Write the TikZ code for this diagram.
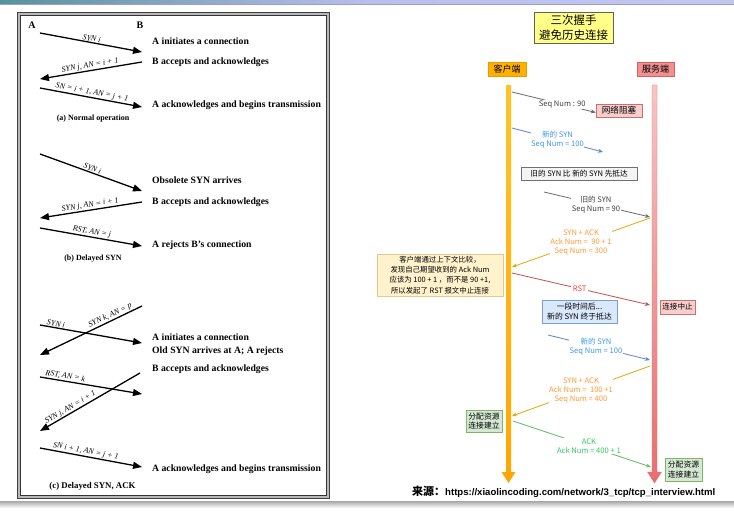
\documentclass[tikz,border=0pt]{standalone}
\usepackage{fontspec}
\setmainfont{Liberation Serif}
\newfontfamily\cjk{Noto Sans CJK SC}
\newfontfamily\arialf{Liberation Sans}
\usetikzlibrary{arrows.meta}
\definecolor{titley}{HTML}{FFFF88}
\definecolor{titleb}{HTML}{606060}
\definecolor{clorange}{HTML}{FFB000}
\definecolor{svpink}{HTML}{F09090}
\definecolor{svred}{HTML}{D86060}
\definecolor{redfill}{HTML}{F8CECC}
\definecolor{redline}{HTML}{C87070}
\definecolor{greyfill}{HTML}{F4F4F4}
\definecolor{greyline}{HTML}{707070}
\definecolor{notefill}{HTML}{FFF2CC}
\definecolor{noteline}{HTML}{E2C98C}
\definecolor{bluefill}{HTML}{DAE8FC}
\definecolor{blueline}{HTML}{7C9CCB}
\definecolor{greenfill}{HTML}{D5E8D4}
\definecolor{greenline}{HTML}{82B366}
\definecolor{mgrey}{HTML}{6A6A6A}
\definecolor{mgreytxt}{HTML}{404040}
\definecolor{mblue}{HTML}{5B84C4}
\definecolor{mbluetxt}{HTML}{3C96F0}
\definecolor{mgold}{HTML}{E0A800}
\definecolor{morangetxt}{HTML}{FF9A33}
\definecolor{mred}{HTML}{C0504D}
\definecolor{mredtxt}{HTML}{FF3B3B}
\definecolor{mgreen}{HTML}{6BBF6B}
\definecolor{mgreentxt}{HTML}{2FCB5F}
\definecolor{barteal}{RGB}{88,145,158}
\definecolor{barlav}{RGB}{186,190,236}
\definecolor{barlav2}{RGB}{196,198,240}
\definecolor{barline}{RGB}{150,160,200}
\definecolor{cltop}{RGB}{255,196,40}
\definecolor{clbot}{RGB}{255,166,0}
\definecolor{svtop}{RGB}{247,196,196}
\definecolor{svbot}{RGB}{232,110,110}
\definecolor{svedge}{RGB}{220,120,120}
\begin{document}
\begin{tikzpicture}[x=1pt,y=-1pt,
  larrow/.style={line width=1.3pt,-{Triangle[length=9pt,width=7pt]}},
  lbl/.style={font=\fontsize{8}{9}\selectfont\itshape,sloped,above,inner sep=0.8pt},
  ltxt/.style={font=\fontsize{9.7}{11}\selectfont\bfseries,anchor=west,inner sep=0pt},
  capt/.style={font=\fontsize{8}{9}\selectfont\bfseries,inner sep=0pt},
  box/.style={inner sep=0pt,align=center,font=\cjk\fontsize{8}{9.5}\selectfont},
  mlbl/.style={fill=white,inner sep=0.6pt,align=center,font=\cjk\fontsize{7.6}{9}\selectfont},
  msg/.style={line width=0.8pt,-{Stealth[length=5pt,width=4pt]}}]
\useasboundingbox (0,0) rectangle (734,511);
\fill[white] (0,0) rectangle (734,511);
% top bar
\shade[left color=barteal,right color=barlav] (0,0) rectangle (367,4);
\shade[left color=barlav,right color=barlav2] (367,0) rectangle (734,4);
\fill[barline] (0,4) rectangle (734,5);
% bottom shadow
\shade[top color=gray!70,bottom color=white] (0,501) rectangle (734,508);
% left panel frame
\draw[line width=3.2pt,gray!55] (19,14) rectangle (327.5,496.5);
\draw[line width=0.8pt,black!75] (17.5,12.5) rectangle (329,498);
\draw[line width=0.8pt,black!80] (20.5,15.5) rectangle (326,495);
% ---- (a)
\node[font=\fontsize{10}{11}\selectfont\bfseries,inner sep=0pt] (A) at (32,25) {A};
\node[font=\fontsize{10}{11}\selectfont\bfseries,inner sep=0pt] (B) at (140,25) {B};
\coordinate (a1s) at (40,33); \coordinate (a1e) at (142,52);
\coordinate (a2s) at (142,62); \coordinate (a2e) at (40,79);
\coordinate (a3s) at (40,88); \coordinate (a3e) at (142,107);
\draw[larrow] (a1s) -- node[lbl] {SYN i} (a1e);
\draw[larrow] (a2s) -- node[lbl] {SYN j, AN = i + 1} (a2e);
\draw[larrow] (a3s) -- node[lbl] {SN = i + 1, AN = j + 1} (a3e);
\node[ltxt] (ta1) at (152,41) {A initiates a connection};
\node[ltxt] (ta2) at (152,62) {B accepts and acknowledges};
\node[ltxt] (ta3) at (152,105) {A acknowledges and begins transmission};
\node[capt] (capa) at (93,119) {(a) Normal operation};
% ---- (b)
\coordinate (b1s) at (40,154); \coordinate (b1e) at (142,191);
\coordinate (b2s) at (142,202); \coordinate (b2e) at (40,218);
\coordinate (b3s) at (40,228); \coordinate (b3e) at (142,246);
\draw[larrow] (b1s) -- node[lbl] {SYN i} (b1e);
\draw[larrow] (b2s) -- node[lbl] {SYN j, AN = i + 1} (b2e);
\draw[larrow] (b3s) -- node[lbl] {RST, AN = j} (b3e);
\node[ltxt] (tb1) at (152,180) {Obsolete SYN arrives};
\node[ltxt] (tb2) at (152,202) {B accepts and acknowledges};
\node[ltxt] (tb3) at (152,245) {A rejects B's connection};
\node[capt] (capb) at (93,259) {(b) Delayed SYN};
% ---- (c)
\coordinate (c1s) at (40,325); \coordinate (c1e) at (142,343);
\coordinate (c2s) at (142,306); \coordinate (c2e) at (40,355);
\coordinate (c3s) at (40,377); \coordinate (c3e) at (142,394);
\coordinate (c4s) at (140,373); \coordinate (c4e) at (40,431);
\coordinate (c5s) at (40,448); \coordinate (c5e) at (142,467);
\draw[larrow] (c1s) -- node[lbl,pos=.15] {SYN i} (c1e);
\draw[larrow] (c2s) -- node[lbl,pos=.29] {SYN k, AN = p} (c2e);
\draw[larrow] (c3s) -- node[lbl,pos=.24] {RST, AN = k} (c3e);
\draw[larrow] (c4s) -- node[lbl,pos=.67] {SYN j, AN = i + 1} (c4e);
\draw[larrow] (c5s) -- node[lbl,pos=.44] {SN i + 1, AN = j + 1} (c5e);
\node[ltxt] (tc1) at (152,337) {A initiates a connection};
\node[ltxt] (tc2) at (152,351) {Old SYN arrives at A; A rejects};
\node[ltxt] (tc3) at (152,369) {B accepts and acknowledges};
\node[ltxt] (tc4) at (152,469) {A acknowledges and begins transmission};
\node[capt,font=\fontsize{8.8}{10}\selectfont\bfseries] (capc) at (92.5,486) {(c) Delayed SYN, ACK};
% ================= right panel
\node[box,minimum width=79pt,minimum height=31pt,fill=titley,draw=titleb,line width=0.8pt,font=\cjk\fontsize{11.5}{15}\selectfont] (title) at (573.5,27.5) {三次握手\\避免历史连接};
\node[box,minimum width=38pt,minimum height=14pt,fill=clorange,draw=clorange!90!black,line width=0.3pt,font=\cjk\fontsize{9}{10}\selectfont] (client) at (507,69) {客户端};
\node[box,minimum width=37pt,minimum height=14pt,fill=svpink,draw=svred,line width=0.4pt,font=\cjk\fontsize{9}{10}\selectfont] (server) at (655.5,69) {服务端};
% lifelines
\shade[top color=cltop,bottom color=clbot]
  (506,85) -- (511,85) -- (511,472) -- (515.5,472) -- (508.5,483) -- (501.5,472) -- (506,472) -- cycle;
\shade[top color=svtop,bottom color=svbot,draw=svedge,line width=0.4pt]
  (652,85) -- (657,85) -- (657,472) -- (661.5,472) -- (654.5,483) -- (647.5,472) -- (652,472) -- cycle;
% boxes
\node[box,minimum width=46pt,minimum height=13pt,fill=redfill,draw=redline,line width=0.5pt,font=\cjk\fontsize{8.6}{10}\selectfont] (net) at (619,110.5) {网络阻塞};
\node[box,minimum width=116pt,minimum height=13pt,fill=greyfill,draw=greyline,line width=0.5pt,font=\cjk\fontsize{7.6}{9}\selectfont] (old) at (579,173.5) {旧的 SYN 比 新的 SYN 先抵达};
\node[box,minimum width=126pt,minimum height=42pt,fill=notefill,draw=noteline,line width=0.5pt,font=\cjk\fontsize{7.4}{10.3}\selectfont] (note) at (440,275) {客户端通过上下文比较，\\发现自己期望收到的 Ack Num\\应该为 100 + 1 ，而不是 90 +1,\\所以发起了 RST 报文中止连接};
\node[box,minimum width=35pt,minimum height=14pt,fill=redfill,draw=redline,line width=0.5pt,font=\cjk\fontsize{7.6}{9}\selectfont] (abort) at (677.5,307) {连接中止};
\node[box,minimum width=75pt,minimum height=23pt,fill=bluefill,draw=blueline,line width=0.5pt,font=\cjk\fontsize{7.8}{9.5}\selectfont] (later) at (579.5,311.5) {一段时间后...\\新的 SYN 终于抵达};
\node[box,minimum width=36pt,minimum height=22pt,fill=greenfill,draw=greenline,line width=0.5pt,font=\cjk\fontsize{7.8}{9.2}\selectfont] (estL) at (484,421) {分配资源\\连接建立};
\node[box,minimum width=37pt,minimum height=23pt,fill=greenfill,draw=greenline,line width=0.5pt,font=\cjk\fontsize{7.8}{9.2}\selectfont] (estR) at (683.5,469.5) {分配资源\\连接建立};
% message endpoints
\coordinate (m1s) at (512,92);
\coordinate (m2s) at (512,128); \coordinate (m2e) at (603,152);
\coordinate (m4s) at (544,192); \coordinate (m4e) at (650,217);
\coordinate (m5s) at (650,218); \coordinate (m5e) at (512,267);
\coordinate (m7s) at (512,273); \coordinate (m7e) at (650,305);
\coordinate (m10s) at (548,335); \coordinate (m10e) at (650,360);
\coordinate (m11s) at (650,366); \coordinate (m11e) at (512,416);
\coordinate (m13s) at (513,421); \coordinate (m13e) at (651,467);
\draw[msg,mgrey] (m1s) -- node[mlbl,pos=.6,text=mgreytxt] {Seq Num : 90} ([yshift=-2pt]net.west);
\draw[msg,mblue] (m2s) -- node[mlbl,pos=.5,text=mbluetxt] {新的 SYN\\Seq Num = 100} (m2e);
\draw[msg,mgrey] (m4s) -- node[mlbl,pos=.49,text=mgreytxt] {旧的 SYN\\Seq Num = 90} (m4e);
\draw[msg,mgold] (m5s) -- node[mlbl,pos=.5,text=morangetxt] {SYN + ACK\\Ack Num =\ \ 90 + 1\\Seq Num = 300} (m5e);
\draw[msg,mred] (m7s) -- node[mlbl,pos=.49,text=mredtxt,inner sep=2pt] {RST} (m7e);
\draw[msg,mblue] (m10s) -- node[mlbl,pos=.47,text=mbluetxt] {新的 SYN\\Seq Num = 100} (m10e);
\draw[msg,mgold] (m11s) -- node[mlbl,pos=.5,text=morangetxt] {SYN + ACK\\Ack Num =\ \ 100 +1\\Seq Num = 400} (m11e);
\draw[msg,mgreen] (m13s) -- node[mlbl,pos=.55,text=mgreentxt] {ACK\\Ack Num = 400 + 1} (m13e);
% source line
\node[anchor=west,inner sep=0pt] (src) at (412,492) {{\cjk\bfseries\fontsize{11}{12}\selectfont 来源：}{\arialf\bfseries\fontsize{9.6}{11}\selectfont https://xiaolincoding.com/network/3\_tcp/tcp\_interview.html}};
\end{tikzpicture}
\end{document}
